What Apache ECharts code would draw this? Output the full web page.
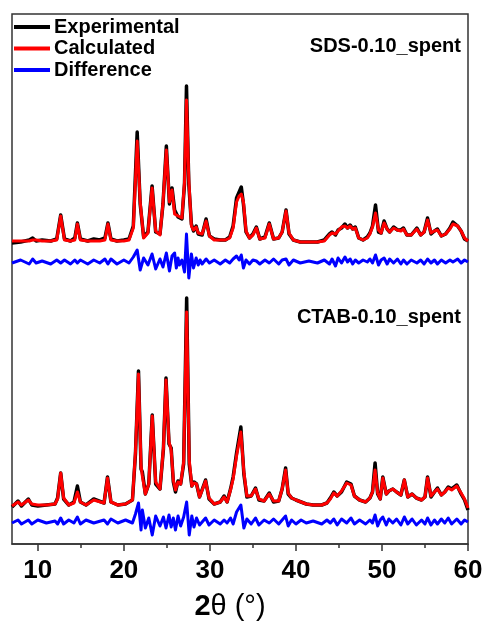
<!DOCTYPE html>
<html lang="en">
<head>
    <meta charset="utf-8">
    <title>XRD Rietveld refinement - SDS / CTAB spent</title>
    <script src="https://cdn.jsdelivr.net/npm/echarts@6/dist/echarts.min.js"></script>
    <style>
        html, body { margin: 0; padding: 0; background: #fff; }
        #main { width: 489px; height: 628px; }
    </style>
</head>
<body>
    <div id="main"></div>
    <script type="text/javascript">
        // 2theta grid and intensities (a.u., stacked with offsets) for SDS-0.10_spent
        var sdsTheta = [7.0, 8.0, 9.0, 9.4, 9.8, 10.5, 11.5, 12.2, 12.66, 13.1, 13.8, 14.3, 14.6, 14.95, 15.8, 16.5, 17.2, 17.8, 18.15, 18.5,
            19.2, 20.0, 20.6, 21.1, 21.55, 21.9, 22.3, 22.8, 23.28, 23.7, 24.2, 24.55, 24.94, 25.3, 25.6, 25.9, 26.1, 26.3, 26.45, 26.75,
            27.05, 27.28, 27.55, 27.85, 28.1, 28.4, 28.65, 28.86, 29.1, 29.56, 29.95, 30.5, 31.2, 31.8, 32.3, 32.7, 33.1, 33.4, 33.65, 33.9,
            34.2, 34.6, 35.0, 35.4, 35.8, 36.4, 36.9, 37.4, 38.0, 38.4, 38.85, 39.2, 39.7, 40.5, 41.5, 42.5, 43.3, 43.9, 44.2, 44.6,
            44.9, 45.3, 45.7, 46.0, 46.3, 46.6, 46.9, 47.3, 47.8, 48.3, 48.6, 48.9, 49.25, 49.6, 49.9, 50.25, 50.6, 50.9, 51.35, 51.8,
            52.2, 52.5, 52.9, 53.4, 54.06, 54.5, 54.9, 55.3, 55.7, 56.1, 56.45, 56.9, 57.4, 57.9, 58.25, 58.8, 59.2, 59.6, 60.0];
        var sdsExp = [301, 302, 304, 306, 303, 304, 303, 305, 329, 305, 303, 306, 321, 305, 303, 305, 304, 306, 321, 305,
            303, 304, 305, 318, 412, 340, 307, 312, 358, 312, 310, 340, 398, 340, 356, 334, 333, 327, 329, 325,
            360, 458, 360, 320, 313, 318, 310, 312, 309, 325, 308, 305, 304, 304, 307, 318, 346, 352, 357, 340,
            312, 306, 310, 317, 305, 307, 321, 305, 306, 312, 334, 310, 304, 302, 302, 302, 304, 310, 312, 309,
            314, 316, 320, 316, 319, 315, 317, 306, 304, 307, 311, 318, 339, 312, 311, 323, 315, 312, 317, 314,
            314, 316, 309, 309, 316, 309, 312, 326, 310, 313, 315, 308, 310, 316, 322, 318, 313, 305, 303];
        var sdsCalc = [303, 303, 303, 304, 304, 303, 303, 304, 328, 304, 303, 304, 320, 304, 303, 303, 303, 304, 320, 304,
            303, 303, 304, 316, 403, 342, 306, 311, 356, 313, 309, 341, 394, 342, 354, 330, 331, 328, 327, 326,
            362, 444, 364, 318, 314, 317, 311, 311, 310, 323, 308, 304, 304, 304, 306, 316, 342, 348, 350, 342,
            313, 306, 309, 316, 305, 306, 320, 305, 306, 312, 333, 311, 304, 302, 302, 302, 303, 309, 311, 310,
            313, 317, 318, 316, 318, 315, 316, 306, 304, 306, 310, 317, 331, 314, 311, 321, 315, 312, 316, 314,
            313, 315, 309, 309, 315, 309, 312, 324, 311, 313, 314, 308, 310, 315, 320, 318, 313, 306, 303];
        var sdsDiff = [281, 284, 280, 285, 281, 283, 280, 284, 281, 284, 280, 284, 281, 284, 280, 284, 281, 285, 280, 285,
            280, 284, 281, 287, 294, 274, 286, 279, 290, 275, 285, 277, 291, 273, 288, 291, 276, 286, 279, 284,
            272, 310, 266, 290, 276, 286, 279, 284, 280, 285, 281, 284, 280, 284, 281, 285, 288, 284, 289, 276,
            284, 280, 284, 283, 280, 284, 281, 285, 280, 284, 285, 279, 284, 281, 283, 281, 284, 280, 285, 278,
            286, 281, 287, 282, 285, 280, 284, 281, 284, 282, 285, 281, 289, 279, 284, 286, 280, 285, 281, 285,
            280, 284, 280, 284, 281, 284, 280, 285, 281, 284, 280, 284, 281, 284, 282, 285, 281, 284, 282];

        // same for CTAB-0.10_spent
        var ctabTheta = [7.0, 7.7, 8.1, 8.9, 9.3, 10.0, 11.0, 12.0, 12.3, 12.66, 13.0, 13.6, 14.2, 14.6, 14.95, 15.6, 16.5, 17.7, 18.1, 18.5,
            19.3, 20.2, 21.0, 21.35, 21.7, 22.0, 22.15, 22.5, 22.9, 23.3, 23.7, 24.2, 24.6, 24.9, 25.25, 25.5, 25.75, 26.0, 26.3, 26.6,
            26.95, 27.3, 27.6, 27.9, 28.15, 28.45, 28.8, 29.5, 29.9, 30.5, 31.2, 31.65, 32.0, 32.4, 32.7, 33.1, 33.6, 33.95, 34.3, 34.8,
            35.3, 35.7, 36.3, 36.9, 37.4, 38.0, 38.4, 38.8, 39.1, 39.5, 40.0, 40.6, 41.2, 42.0, 43.0, 43.6, 44.0, 44.4, 44.8, 45.3,
            45.9, 46.4, 46.8, 47.4, 48.1, 48.6, 48.9, 49.2, 49.5, 49.8, 50.1, 50.5, 50.8, 51.26, 51.7, 52.2, 52.6, 53.0, 53.5, 54.0,
            54.6, 55.0, 55.3, 55.7, 56.1, 56.45, 56.9, 57.3, 57.7, 58.1, 58.7, 59.2, 59.6, 60.0];
        var ctabExp = [37, 43, 38, 45, 39, 38, 39, 40, 46, 71, 45, 39, 42, 58, 42, 39, 45, 41, 67, 42,
            39, 40, 44, 90, 173, 75, 72, 50, 60, 129, 60, 55, 95, 166, 100, 96, 62, 52, 63, 60,
            80, 246, 80, 58, 62, 60, 47, 64, 45, 40, 42, 48, 42, 55, 67, 91, 117, 70, 47, 48,
            56, 44, 43, 51, 42, 43, 55, 76, 50, 46, 44, 42, 40, 39, 39, 41, 46, 52, 48, 52,
            62, 60, 48, 44, 42, 46, 52, 81, 50, 45, 67, 50, 53, 55, 52, 49, 64, 47, 50, 46,
            44, 47, 67, 47, 52, 56, 49, 52, 57, 55, 59, 50, 44, 34];
        var ctabCalc = [38, 42, 39, 44, 40, 39, 39, 40, 45, 71, 46, 39, 41, 52, 42, 39, 44, 41, 66, 42,
            39, 40, 44, 92, 170, 78, 68, 50, 60, 128, 62, 55, 96, 164, 102, 94, 64, 54, 62, 60,
            82, 232, 84, 58, 61, 60, 47, 63, 46, 40, 42, 47, 42, 54, 65, 88, 112, 72, 48, 48,
            55, 45, 43, 50, 43, 43, 55, 74, 51, 46, 44, 42, 40, 39, 39, 41, 45, 51, 48, 53,
            61, 59, 48, 44, 42, 46, 52, 74, 51, 45, 66, 50, 53, 55, 52, 49, 64, 47, 50, 46,
            44, 47, 66, 48, 52, 55, 49, 52, 56, 54, 58, 51, 45, 36];
        var ctabDiff = [21, 24, 20, 24, 20, 24, 21, 23, 20, 26, 20, 24, 21, 27, 20, 24, 21, 24, 20, 25,
            21, 24, 21, 30, 41, 14, 34, 16, 26, 9, 28, 18, 27, 16, 29, 17, 26, 14, 28, 18,
            27, 42, 9, 28, 17, 26, 19, 26, 19, 24, 20, 24, 21, 26, 20, 32, 39, 16, 25, 20,
            26, 19, 24, 21, 25, 20, 24, 28, 18, 24, 20, 24, 21, 23, 20, 24, 21, 25, 19, 25,
            21, 26, 20, 24, 20, 24, 21, 29, 18, 24, 27, 19, 25, 21, 25, 19, 27, 20, 25, 19,
            24, 20, 26, 19, 24, 20, 25, 21, 26, 20, 25, 20, 24, 22];

        var majorTicks = [10, 20, 30, 40, 50, 60];
        var minorTicks = [15, 25, 35, 45, 55];

        function pairs(xs, ys) {
            return xs.map(function (x, i) { return [x, ys[i]]; });
        }

        var font = "'Liberation Sans', Arial, sans-serif";

        function line(name, color, width, xs, ys) {
            return {
                name: name,
                type: 'line',
                showSymbol: false,
                symbol: 'none',
                silent: true,
                animation: false,
                color: color,
                lineStyle: { color: color, width: width, join: 'round' },
                data: pairs(xs, ys)
            };
        }

        var myChart = echarts.init(document.getElementById('main'));
        var option = {
            backgroundColor: '#fff',
            animation: false,
            grid: {
                left: 12, right: 21, top: 14, bottom: 84,
                show: true, borderColor: '#333', borderWidth: 1.5
            },
            legend: {
                orient: 'vertical',
                left: 14, top: 17,
                padding: 0,
                icon: 'rect',
                itemWidth: 36, itemHeight: 4, itemGap: 1.5,
                data: ['Experimental', 'Calculated', 'Difference'],
                textStyle: { fontFamily: font, fontSize: 20, fontWeight: 'bold', color: '#000', lineHeight: 20, padding: [0, 0, 0, -1] }
            },
            xAxis: [
                {
                    type: 'value', min: 7, max: 60,
                    splitLine: { show: false },
                    axisLine: { lineStyle: { color: '#333', width: 1.5 } },
                    axisTick: { customValues: majorTicks, length: 7, lineStyle: { color: '#333', width: 1.5 } },
                    axisLabel: { customValues: majorTicks, margin: 14, fontFamily: font, fontSize: 26, fontWeight: 'bold', color: '#000' }
                },
                {
                    type: 'value', min: 7, max: 60, position: 'bottom',
                    splitLine: { show: false },
                    axisLine: { show: false },
                    axisTick: { customValues: minorTicks, length: 4, lineStyle: { color: '#333', width: 1.5 } },
                    axisLabel: { show: false }
                }
            ],
            yAxis: { type: 'value', min: 0, max: 530, show: false },
            graphic: [
                {
                    type: 'text', right: 28, top: 36,
                    style: { text: 'SDS-0.10_spent', fill: '#000', font: 'bold 20px ' + font }
                },
                {
                    type: 'text', right: 28, top: 307,
                    style: { text: 'CTAB-0.10_spent', fill: '#000', font: 'bold 20px ' + font }
                },
                {
                    type: 'text', x: 230, y: 607,
                    style: {
                        text: '{a|2}{b|θ (°)}',
                        align: 'center', verticalAlign: 'middle',
                        rich: {
                            a: { fontFamily: font, fontSize: 29, fontWeight: 'bold', fill: '#000' },
                            b: { fontFamily: font, fontSize: 29, fill: '#000' }
                        }
                    }
                }
            ],
            series: [
                line('Experimental', '#000000', 3.5, sdsTheta, sdsExp),
                line('Calculated', '#ff0000', 3, sdsTheta, sdsCalc),
                line('Difference', '#0000ff', 3, sdsTheta, sdsDiff),
                line('Experimental', '#000000', 3.5, ctabTheta, ctabExp),
                line('Calculated', '#ff0000', 3, ctabTheta, ctabCalc),
                line('Difference', '#0000ff', 3, ctabTheta, ctabDiff)
            ]
        };
        myChart.setOption(option);
    </script>
</body>
</html>
